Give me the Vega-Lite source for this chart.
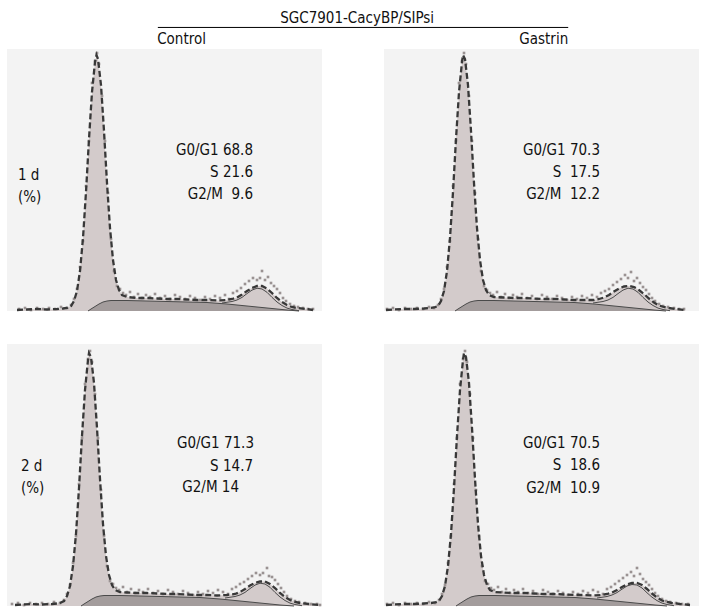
{
"$schema":"https://vega.github.io/schema/vega-lite/v6.json",
"padding":{"left":7,"top":0,"right":0,"bottom":0},
"background":"#ffffff",
"spacing":0,
"bounds":"flush",
"config":{"view":{"stroke":null,"fill":"#f3f3f3"},"text":{"font":"DejaVu Sans Condensed, DejaVu Sans","fontSize":15,"color":"#111111"}},
"vconcat":[
{
"width":692,"height":49,
"view":{"stroke":null,"fill":"#ffffff"},
"data":{"values":[
{"k":"title","x":50.6,"y":36.7,"t":"SGC7901-CacyBP/SIPsi"},
{"k":"rule","x":21.8,"x2":81.1,"y":56},
{"k":"left","x":21.7,"y":79.6,"t":"Control"},
{"k":"right","x":81.1,"y":79.6,"t":"Gastrin"}
]},
"layer":[
{"transform":[{"filter":"datum.k=='rule'"}],"mark":{"type":"rule","color":"#000000","strokeWidth":1},
"encoding":{"x":{"field":"x","type":"quantitative","scale":{"domain":[0,100]},"axis":null},"x2":{"field":"x2"},"y":{"field":"y","type":"quantitative","scale":{"domain":[0,100],"reverse":true},"axis":null}}},
{"transform":[{"filter":"datum.k=='title'"}],"mark":{"type":"text","align":"center","baseline":"middle"},
"encoding":{"x":{"field":"x","type":"quantitative","scale":{"domain":[0,100]},"axis":null},"y":{"field":"y","type":"quantitative","scale":{"domain":[0,100],"reverse":true},"axis":null},"text":{"field":"t"}}},
{"transform":[{"filter":"datum.k=='left'"}],"mark":{"type":"text","align":"left","baseline":"middle"},
"encoding":{"x":{"field":"x","type":"quantitative","scale":{"domain":[0,100]},"axis":null},"y":{"field":"y","type":"quantitative","scale":{"domain":[0,100],"reverse":true},"axis":null},"text":{"field":"t"}}},
{"transform":[{"filter":"datum.k=='right'"}],"mark":{"type":"text","align":"right","baseline":"middle"},
"encoding":{"x":{"field":"x","type":"quantitative","scale":{"domain":[0,100]},"axis":null},"y":{"field":"y","type":"quantitative","scale":{"domain":[0,100],"reverse":true},"axis":null},"text":{"field":"t"}}}
]
},
{
"bounds":"flush",
"data":{"values":[
{"r":1,"c":1,"k":"t","x":10,"y":1},{"r":1,"c":1,"k":"t","x":20,"y":1.5},{"r":1,"c":1,"k":"t","x":30,"y":2},{"r":1,"c":1,"k":"t","x":40,"y":1.5},{"r":1,"c":1,"k":"t","x":50,"y":2},{"r":1,"c":1,"k":"t","x":56,"y":2.5},{"r":1,"c":1,"k":"t","x":60,"y":3},{"r":1,"c":1,"k":"t","x":64,"y":5},{"r":1,"c":1,"k":"t","x":67,"y":10},{"r":1,"c":1,"k":"t","x":70,"y":20},{"r":1,"c":1,"k":"t","x":73,"y":40},{"r":1,"c":1,"k":"t","x":76,"y":73},{"r":1,"c":1,"k":"t","x":79,"y":119},{"r":1,"c":1,"k":"t","x":82,"y":172},{"r":1,"c":1,"k":"t","x":85,"y":219},{"r":1,"c":1,"k":"t","x":88,"y":249},{"r":1,"c":1,"k":"t","x":89.5,"y":256},{"r":1,"c":1,"k":"t","x":91,"y":252},{"r":1,"c":1,"k":"t","x":94,"y":226},{"r":1,"c":1,"k":"t","x":97,"y":180},{"r":1,"c":1,"k":"t","x":100,"y":128},{"r":1,"c":1,"k":"t","x":103,"y":83},{"r":1,"c":1,"k":"t","x":106,"y":51},{"r":1,"c":1,"k":"t","x":109,"y":31},{"r":1,"c":1,"k":"t","x":112,"y":21},{"r":1,"c":1,"k":"t","x":115,"y":16},{"r":1,"c":1,"k":"t","x":120,"y":14},{"r":1,"c":1,"k":"t","x":130,"y":13},{"r":1,"c":1,"k":"t","x":140,"y":13},{"r":1,"c":1,"k":"t","x":150,"y":12.5},{"r":1,"c":1,"k":"t","x":160,"y":12},{"r":1,"c":1,"k":"t","x":170,"y":12},{"r":1,"c":1,"k":"t","x":180,"y":11.5},{"r":1,"c":1,"k":"t","x":190,"y":11},{"r":1,"c":1,"k":"t","x":200,"y":11},{"r":1,"c":1,"k":"t","x":210,"y":10.5},{"r":1,"c":1,"k":"t","x":220,"y":11},{"r":1,"c":1,"k":"t","x":225,"y":12},{"r":1,"c":1,"k":"t","x":230,"y":13.5},{"r":1,"c":1,"k":"t","x":235,"y":16.5},{"r":1,"c":1,"k":"t","x":240,"y":20},{"r":1,"c":1,"k":"t","x":245,"y":23},{"r":1,"c":1,"k":"t","x":250,"y":25},{"r":1,"c":1,"k":"t","x":255,"y":25},{"r":1,"c":1,"k":"t","x":260,"y":22.5},{"r":1,"c":1,"k":"t","x":265,"y":18},{"r":1,"c":1,"k":"t","x":270,"y":13},{"r":1,"c":1,"k":"t","x":275,"y":9},{"r":1,"c":1,"k":"t","x":280,"y":6},{"r":1,"c":1,"k":"t","x":285,"y":4},{"r":1,"c":1,"k":"t","x":290,"y":3},{"r":1,"c":1,"k":"t","x":300,"y":2},{"r":1,"c":1,"k":"t","x":306,"y":1},
{"r":1,"c":1,"k":"s","x":81,"y":0},{"r":1,"c":1,"k":"s","x":84,"y":2},{"r":1,"c":1,"k":"s","x":88,"y":4.5},{"r":1,"c":1,"k":"s","x":92,"y":7},{"r":1,"c":1,"k":"s","x":96,"y":9},{"r":1,"c":1,"k":"s","x":100,"y":10},{"r":1,"c":1,"k":"s","x":104,"y":10.5},{"r":1,"c":1,"k":"s","x":120,"y":10.5},{"r":1,"c":1,"k":"s","x":140,"y":10},{"r":1,"c":1,"k":"s","x":160,"y":9.5},{"r":1,"c":1,"k":"s","x":180,"y":9},{"r":1,"c":1,"k":"s","x":200,"y":8.5},{"r":1,"c":1,"k":"s","x":220,"y":7},{"r":1,"c":1,"k":"s","x":235,"y":5.5},{"r":1,"c":1,"k":"s","x":250,"y":4},{"r":1,"c":1,"k":"s","x":265,"y":2.5},{"r":1,"c":1,"k":"s","x":280,"y":1},{"r":1,"c":1,"k":"s","x":292,"y":0},
{"r":1,"c":1,"k":"g","x":215,"y":8},{"r":1,"c":1,"k":"g","x":225,"y":9.5},{"r":1,"c":1,"k":"g","x":230,"y":11},{"r":1,"c":1,"k":"g","x":235,"y":13.6},{"r":1,"c":1,"k":"g","x":240,"y":17.4},{"r":1,"c":1,"k":"g","x":245,"y":20.9},{"r":1,"c":1,"k":"g","x":250,"y":22.8},{"r":1,"c":1,"k":"g","x":255,"y":22},{"r":1,"c":1,"k":"g","x":260,"y":18.7},{"r":1,"c":1,"k":"g","x":265,"y":13.6},{"r":1,"c":1,"k":"g","x":270,"y":9},{"r":1,"c":1,"k":"g","x":275,"y":5.5},{"r":1,"c":1,"k":"g","x":280,"y":2.9},{"r":1,"c":1,"k":"g","x":285,"y":1.5},{"r":1,"c":1,"k":"g","x":292,"y":0.3},
{"r":1,"c":1,"k":"p","x":12,"y":2},{"r":1,"c":1,"k":"p","x":18,"y":3},{"r":1,"c":1,"k":"p","x":24,"y":1},{"r":1,"c":1,"k":"p","x":30,"y":3},{"r":1,"c":1,"k":"p","x":36,"y":2},{"r":1,"c":1,"k":"p","x":42,"y":3},{"r":1,"c":1,"k":"p","x":48,"y":2},{"r":1,"c":1,"k":"p","x":54,"y":4},{"r":1,"c":1,"k":"p","x":60,"y":3},{"r":1,"c":1,"k":"p","x":64,"y":6},{"r":1,"c":1,"k":"p","x":67,"y":12},{"r":1,"c":1,"k":"p","x":70,"y":22},{"r":1,"c":1,"k":"p","x":73,"y":44},{"r":1,"c":1,"k":"p","x":76,"y":70},{"r":1,"c":1,"k":"p","x":79,"y":125},{"r":1,"c":1,"k":"p","x":82,"y":170},{"r":1,"c":1,"k":"p","x":85,"y":228},{"r":1,"c":1,"k":"p","x":88,"y":250},{"r":1,"c":1,"k":"p","x":90,"y":258},{"r":1,"c":1,"k":"p","x":92,"y":247},{"r":1,"c":1,"k":"p","x":95,"y":215},{"r":1,"c":1,"k":"p","x":98,"y":170},{"r":1,"c":1,"k":"p","x":101,"y":118},{"r":1,"c":1,"k":"p","x":104,"y":72},{"r":1,"c":1,"k":"p","x":107,"y":40},{"r":1,"c":1,"k":"p","x":110,"y":25},{"r":1,"c":1,"k":"p","x":113,"y":22},{"r":1,"c":1,"k":"p","x":116,"y":18},{"r":1,"c":1,"k":"p","x":119,"y":16},{"r":1,"c":1,"k":"p","x":123,"y":19},{"r":1,"c":1,"k":"p","x":127,"y":14},{"r":1,"c":1,"k":"p","x":131,"y":17},{"r":1,"c":1,"k":"p","x":135,"y":13},{"r":1,"c":1,"k":"p","x":139,"y":16},{"r":1,"c":1,"k":"p","x":143,"y":14},{"r":1,"c":1,"k":"p","x":148,"y":17},{"r":1,"c":1,"k":"p","x":153,"y":13},{"r":1,"c":1,"k":"p","x":158,"y":15},{"r":1,"c":1,"k":"p","x":163,"y":12},{"r":1,"c":1,"k":"p","x":168,"y":16},{"r":1,"c":1,"k":"p","x":173,"y":14},{"r":1,"c":1,"k":"p","x":178,"y":12},{"r":1,"c":1,"k":"p","x":183,"y":15},{"r":1,"c":1,"k":"p","x":188,"y":13},{"r":1,"c":1,"k":"p","x":193,"y":11},{"r":1,"c":1,"k":"p","x":198,"y":14},{"r":1,"c":1,"k":"p","x":203,"y":12},{"r":1,"c":1,"k":"p","x":208,"y":15},{"r":1,"c":1,"k":"p","x":213,"y":13},{"r":1,"c":1,"k":"p","x":218,"y":16},{"r":1,"c":1,"k":"p","x":222,"y":12},{"r":1,"c":1,"k":"p","x":226,"y":18},{"r":1,"c":1,"k":"p","x":230,"y":20},{"r":1,"c":1,"k":"p","x":234,"y":23},{"r":1,"c":1,"k":"p","x":238,"y":27},{"r":1,"c":1,"k":"p","x":242,"y":30},{"r":1,"c":1,"k":"p","x":246,"y":33},{"r":1,"c":1,"k":"p","x":250,"y":31},{"r":1,"c":1,"k":"p","x":253,"y":33},{"r":1,"c":1,"k":"p","x":255,"y":40},{"r":1,"c":1,"k":"p","x":258,"y":31},{"r":1,"c":1,"k":"p","x":261,"y":34},{"r":1,"c":1,"k":"p","x":264,"y":28},{"r":1,"c":1,"k":"p","x":267,"y":25},{"r":1,"c":1,"k":"p","x":270,"y":22},{"r":1,"c":1,"k":"p","x":273,"y":18},{"r":1,"c":1,"k":"p","x":276,"y":13},{"r":1,"c":1,"k":"p","x":279,"y":10},{"r":1,"c":1,"k":"p","x":283,"y":7},{"r":1,"c":1,"k":"p","x":287,"y":5},{"r":1,"c":1,"k":"p","x":291,"y":4},{"r":1,"c":1,"k":"p","x":296,"y":3},{"r":1,"c":1,"k":"p","x":301,"y":2},{"r":1,"c":1,"k":"p","x":306,"y":2},
{"r":1,"c":1,"k":"x","x":246,"y":161,"t":"G0/G1 68.8"},{"r":1,"c":1,"k":"x","x":246,"y":139,"t":"S 21.6"},{"r":1,"c":1,"k":"x","x":246,"y":117,"t":"G2/M\u00a0\u00a09.6"},
{"r":1,"c":1,"k":"l","x":11,"y":136,"t":"1 d"},{"r":1,"c":1,"k":"l","x":11,"y":114,"t":"(%)"},

{"r":1,"c":2,"k":"t","x":2,"y":1},{"r":1,"c":2,"k":"t","x":10,"y":1.5},{"r":1,"c":2,"k":"t","x":20,"y":2},{"r":1,"c":2,"k":"t","x":30,"y":2},{"r":1,"c":2,"k":"t","x":40,"y":2.5},{"r":1,"c":2,"k":"t","x":46,"y":3},{"r":1,"c":2,"k":"t","x":50,"y":3.5},{"r":1,"c":2,"k":"t","x":54,"y":5},{"r":1,"c":2,"k":"t","x":57,"y":10},{"r":1,"c":2,"k":"t","x":60,"y":20},{"r":1,"c":2,"k":"t","x":63,"y":40},{"r":1,"c":2,"k":"t","x":66,"y":73},{"r":1,"c":2,"k":"t","x":69,"y":119},{"r":1,"c":2,"k":"t","x":72,"y":172},{"r":1,"c":2,"k":"t","x":75,"y":219},{"r":1,"c":2,"k":"t","x":78,"y":249},{"r":1,"c":2,"k":"t","x":79,"y":256},{"r":1,"c":2,"k":"t","x":81,"y":252},{"r":1,"c":2,"k":"t","x":84,"y":226},{"r":1,"c":2,"k":"t","x":87,"y":180},{"r":1,"c":2,"k":"t","x":90,"y":128},{"r":1,"c":2,"k":"t","x":93,"y":83},{"r":1,"c":2,"k":"t","x":96,"y":51},{"r":1,"c":2,"k":"t","x":99,"y":31},{"r":1,"c":2,"k":"t","x":102,"y":21},{"r":1,"c":2,"k":"t","x":105,"y":16},{"r":1,"c":2,"k":"t","x":110,"y":14},{"r":1,"c":2,"k":"t","x":120,"y":13.5},{"r":1,"c":2,"k":"t","x":130,"y":13},{"r":1,"c":2,"k":"t","x":140,"y":13},{"r":1,"c":2,"k":"t","x":150,"y":12.5},{"r":1,"c":2,"k":"t","x":160,"y":12},{"r":1,"c":2,"k":"t","x":170,"y":12},{"r":1,"c":2,"k":"t","x":180,"y":11.5},{"r":1,"c":2,"k":"t","x":190,"y":11},{"r":1,"c":2,"k":"t","x":200,"y":11},{"r":1,"c":2,"k":"t","x":210,"y":11},{"r":1,"c":2,"k":"t","x":215,"y":12},{"r":1,"c":2,"k":"t","x":220,"y":13.5},{"r":1,"c":2,"k":"t","x":225,"y":16},{"r":1,"c":2,"k":"t","x":230,"y":19.5},{"r":1,"c":2,"k":"t","x":235,"y":22.5},{"r":1,"c":2,"k":"t","x":240,"y":24.5},{"r":1,"c":2,"k":"t","x":245,"y":25},{"r":1,"c":2,"k":"t","x":250,"y":24},{"r":1,"c":2,"k":"t","x":255,"y":21},{"r":1,"c":2,"k":"t","x":260,"y":17},{"r":1,"c":2,"k":"t","x":265,"y":12.5},{"r":1,"c":2,"k":"t","x":270,"y":8.5},{"r":1,"c":2,"k":"t","x":275,"y":5.5},{"r":1,"c":2,"k":"t","x":280,"y":4},{"r":1,"c":2,"k":"t","x":285,"y":3},{"r":1,"c":2,"k":"t","x":292,"y":2},{"r":1,"c":2,"k":"t","x":301,"y":1},
{"r":1,"c":2,"k":"s","x":71,"y":0},{"r":1,"c":2,"k":"s","x":74,"y":2},{"r":1,"c":2,"k":"s","x":78,"y":4.5},{"r":1,"c":2,"k":"s","x":82,"y":7},{"r":1,"c":2,"k":"s","x":86,"y":9},{"r":1,"c":2,"k":"s","x":90,"y":10},{"r":1,"c":2,"k":"s","x":94,"y":10.5},{"r":1,"c":2,"k":"s","x":110,"y":10.5},{"r":1,"c":2,"k":"s","x":130,"y":10},{"r":1,"c":2,"k":"s","x":150,"y":9.5},{"r":1,"c":2,"k":"s","x":170,"y":9},{"r":1,"c":2,"k":"s","x":190,"y":8.5},{"r":1,"c":2,"k":"s","x":210,"y":7},{"r":1,"c":2,"k":"s","x":225,"y":5.5},{"r":1,"c":2,"k":"s","x":240,"y":4},{"r":1,"c":2,"k":"s","x":255,"y":2.5},{"r":1,"c":2,"k":"s","x":270,"y":1},{"r":1,"c":2,"k":"s","x":282,"y":0},
{"r":1,"c":2,"k":"g","x":209,"y":8},{"r":1,"c":2,"k":"g","x":219,"y":9.5},{"r":1,"c":2,"k":"g","x":224,"y":11},{"r":1,"c":2,"k":"g","x":229,"y":13.6},{"r":1,"c":2,"k":"g","x":234,"y":17.4},{"r":1,"c":2,"k":"g","x":239,"y":20.9},{"r":1,"c":2,"k":"g","x":244,"y":22.8},{"r":1,"c":2,"k":"g","x":249,"y":22},{"r":1,"c":2,"k":"g","x":254,"y":18.7},{"r":1,"c":2,"k":"g","x":259,"y":13.6},{"r":1,"c":2,"k":"g","x":264,"y":9},{"r":1,"c":2,"k":"g","x":269,"y":5.5},{"r":1,"c":2,"k":"g","x":274,"y":2.9},{"r":1,"c":2,"k":"g","x":279,"y":1.5},{"r":1,"c":2,"k":"g","x":286,"y":0.3},
{"r":1,"c":2,"k":"p","x":3,"y":2},{"r":1,"c":2,"k":"p","x":9,"y":3},{"r":1,"c":2,"k":"p","x":15,"y":1},{"r":1,"c":2,"k":"p","x":21,"y":3},{"r":1,"c":2,"k":"p","x":27,"y":2},{"r":1,"c":2,"k":"p","x":33,"y":3},{"r":1,"c":2,"k":"p","x":39,"y":2},{"r":1,"c":2,"k":"p","x":45,"y":4},{"r":1,"c":2,"k":"p","x":50,"y":3},{"r":1,"c":2,"k":"p","x":54,"y":6},{"r":1,"c":2,"k":"p","x":57,"y":12},{"r":1,"c":2,"k":"p","x":60,"y":22},{"r":1,"c":2,"k":"p","x":63,"y":44},{"r":1,"c":2,"k":"p","x":66,"y":70},{"r":1,"c":2,"k":"p","x":69,"y":125},{"r":1,"c":2,"k":"p","x":72,"y":170},{"r":1,"c":2,"k":"p","x":75,"y":228},{"r":1,"c":2,"k":"p","x":78,"y":250},{"r":1,"c":2,"k":"p","x":80,"y":258},{"r":1,"c":2,"k":"p","x":82,"y":247},{"r":1,"c":2,"k":"p","x":85,"y":215},{"r":1,"c":2,"k":"p","x":88,"y":170},{"r":1,"c":2,"k":"p","x":91,"y":118},{"r":1,"c":2,"k":"p","x":94,"y":72},{"r":1,"c":2,"k":"p","x":97,"y":40},{"r":1,"c":2,"k":"p","x":100,"y":25},{"r":1,"c":2,"k":"p","x":103,"y":21},{"r":1,"c":2,"k":"p","x":106,"y":18},{"r":1,"c":2,"k":"p","x":109,"y":16},{"r":1,"c":2,"k":"p","x":113,"y":19},{"r":1,"c":2,"k":"p","x":117,"y":14},{"r":1,"c":2,"k":"p","x":121,"y":17},{"r":1,"c":2,"k":"p","x":125,"y":13},{"r":1,"c":2,"k":"p","x":129,"y":16},{"r":1,"c":2,"k":"p","x":133,"y":14},{"r":1,"c":2,"k":"p","x":138,"y":17},{"r":1,"c":2,"k":"p","x":143,"y":13},{"r":1,"c":2,"k":"p","x":148,"y":15},{"r":1,"c":2,"k":"p","x":153,"y":12},{"r":1,"c":2,"k":"p","x":158,"y":16},{"r":1,"c":2,"k":"p","x":163,"y":14},{"r":1,"c":2,"k":"p","x":168,"y":12},{"r":1,"c":2,"k":"p","x":173,"y":15},{"r":1,"c":2,"k":"p","x":178,"y":13},{"r":1,"c":2,"k":"p","x":183,"y":11},{"r":1,"c":2,"k":"p","x":188,"y":14},{"r":1,"c":2,"k":"p","x":193,"y":12},{"r":1,"c":2,"k":"p","x":198,"y":15},{"r":1,"c":2,"k":"p","x":203,"y":13},{"r":1,"c":2,"k":"p","x":208,"y":16},{"r":1,"c":2,"k":"p","x":213,"y":14},{"r":1,"c":2,"k":"p","x":217,"y":18},{"r":1,"c":2,"k":"p","x":221,"y":20},{"r":1,"c":2,"k":"p","x":225,"y":22},{"r":1,"c":2,"k":"p","x":229,"y":26},{"r":1,"c":2,"k":"p","x":233,"y":29},{"r":1,"c":2,"k":"p","x":237,"y":32},{"r":1,"c":2,"k":"p","x":241,"y":36},{"r":1,"c":2,"k":"p","x":244,"y":33},{"r":1,"c":2,"k":"p","x":247,"y":39},{"r":1,"c":2,"k":"p","x":250,"y":30},{"r":1,"c":2,"k":"p","x":253,"y":33},{"r":1,"c":2,"k":"p","x":256,"y":28},{"r":1,"c":2,"k":"p","x":259,"y":24},{"r":1,"c":2,"k":"p","x":262,"y":21},{"r":1,"c":2,"k":"p","x":265,"y":17},{"r":1,"c":2,"k":"p","x":268,"y":13},{"r":1,"c":2,"k":"p","x":271,"y":10},{"r":1,"c":2,"k":"p","x":275,"y":7},{"r":1,"c":2,"k":"p","x":279,"y":5},{"r":1,"c":2,"k":"p","x":284,"y":4},{"r":1,"c":2,"k":"p","x":290,"y":3},{"r":1,"c":2,"k":"p","x":295,"y":2},{"r":1,"c":2,"k":"p","x":300,"y":2},
{"r":1,"c":2,"k":"x","x":216,"y":161,"t":"G0/G1 70.3"},{"r":1,"c":2,"k":"x","x":216,"y":139,"t":"S\u00a0\u00a017.5"},{"r":1,"c":2,"k":"x","x":216,"y":117,"t":"G2/M\u00a0\u00a012.2"},

{"r":2,"c":1,"k":"t","x":8,"y":1},{"r":2,"c":1,"k":"t","x":15,"y":1.5},{"r":2,"c":1,"k":"t","x":25,"y":2},{"r":2,"c":1,"k":"t","x":35,"y":1.5},{"r":2,"c":1,"k":"t","x":45,"y":2},{"r":2,"c":1,"k":"t","x":50,"y":2.5},{"r":2,"c":1,"k":"t","x":53,"y":3},{"r":2,"c":1,"k":"t","x":57,"y":5},{"r":2,"c":1,"k":"t","x":60,"y":10},{"r":2,"c":1,"k":"t","x":63,"y":20},{"r":2,"c":1,"k":"t","x":66,"y":40},{"r":2,"c":1,"k":"t","x":69,"y":72},{"r":2,"c":1,"k":"t","x":72,"y":118},{"r":2,"c":1,"k":"t","x":75,"y":170},{"r":2,"c":1,"k":"t","x":78,"y":216},{"r":2,"c":1,"k":"t","x":81,"y":246},{"r":2,"c":1,"k":"t","x":82,"y":253},{"r":2,"c":1,"k":"t","x":84,"y":249},{"r":2,"c":1,"k":"t","x":87,"y":223},{"r":2,"c":1,"k":"t","x":90,"y":178},{"r":2,"c":1,"k":"t","x":93,"y":127},{"r":2,"c":1,"k":"t","x":96,"y":82},{"r":2,"c":1,"k":"t","x":99,"y":50},{"r":2,"c":1,"k":"t","x":102,"y":31},{"r":2,"c":1,"k":"t","x":105,"y":21},{"r":2,"c":1,"k":"t","x":108,"y":16},{"r":2,"c":1,"k":"t","x":113,"y":14},{"r":2,"c":1,"k":"t","x":120,"y":13.5},{"r":2,"c":1,"k":"t","x":130,"y":13},{"r":2,"c":1,"k":"t","x":140,"y":13},{"r":2,"c":1,"k":"t","x":150,"y":12.5},{"r":2,"c":1,"k":"t","x":160,"y":12},{"r":2,"c":1,"k":"t","x":170,"y":12},{"r":2,"c":1,"k":"t","x":180,"y":11.5},{"r":2,"c":1,"k":"t","x":190,"y":11},{"r":2,"c":1,"k":"t","x":200,"y":11},{"r":2,"c":1,"k":"t","x":210,"y":10.5},{"r":2,"c":1,"k":"t","x":220,"y":11},{"r":2,"c":1,"k":"t","x":228,"y":12},{"r":2,"c":1,"k":"t","x":233,"y":14},{"r":2,"c":1,"k":"t","x":238,"y":17},{"r":2,"c":1,"k":"t","x":243,"y":20.5},{"r":2,"c":1,"k":"t","x":248,"y":23},{"r":2,"c":1,"k":"t","x":253,"y":24.5},{"r":2,"c":1,"k":"t","x":258,"y":24.5},{"r":2,"c":1,"k":"t","x":263,"y":22},{"r":2,"c":1,"k":"t","x":268,"y":18},{"r":2,"c":1,"k":"t","x":273,"y":13},{"r":2,"c":1,"k":"t","x":278,"y":9},{"r":2,"c":1,"k":"t","x":283,"y":6},{"r":2,"c":1,"k":"t","x":288,"y":4},{"r":2,"c":1,"k":"t","x":293,"y":3},{"r":2,"c":1,"k":"t","x":302,"y":2},{"r":2,"c":1,"k":"t","x":312,"y":1},
{"r":2,"c":1,"k":"s","x":74,"y":0},{"r":2,"c":1,"k":"s","x":77,"y":2},{"r":2,"c":1,"k":"s","x":81,"y":4.5},{"r":2,"c":1,"k":"s","x":85,"y":7},{"r":2,"c":1,"k":"s","x":89,"y":9},{"r":2,"c":1,"k":"s","x":93,"y":10},{"r":2,"c":1,"k":"s","x":97,"y":10.5},{"r":2,"c":1,"k":"s","x":113,"y":10.5},{"r":2,"c":1,"k":"s","x":133,"y":10},{"r":2,"c":1,"k":"s","x":153,"y":9.5},{"r":2,"c":1,"k":"s","x":173,"y":9},{"r":2,"c":1,"k":"s","x":193,"y":8.5},{"r":2,"c":1,"k":"s","x":213,"y":7},{"r":2,"c":1,"k":"s","x":228,"y":5.5},{"r":2,"c":1,"k":"s","x":243,"y":4},{"r":2,"c":1,"k":"s","x":258,"y":2.5},{"r":2,"c":1,"k":"s","x":273,"y":1},{"r":2,"c":1,"k":"s","x":287,"y":0},
{"r":2,"c":1,"k":"g","x":218,"y":8},{"r":2,"c":1,"k":"g","x":228,"y":9.5},{"r":2,"c":1,"k":"g","x":233,"y":11},{"r":2,"c":1,"k":"g","x":238,"y":13.6},{"r":2,"c":1,"k":"g","x":243,"y":17.4},{"r":2,"c":1,"k":"g","x":248,"y":20.9},{"r":2,"c":1,"k":"g","x":253,"y":22.8},{"r":2,"c":1,"k":"g","x":258,"y":22},{"r":2,"c":1,"k":"g","x":263,"y":18.7},{"r":2,"c":1,"k":"g","x":268,"y":13.6},{"r":2,"c":1,"k":"g","x":273,"y":9},{"r":2,"c":1,"k":"g","x":278,"y":5.5},{"r":2,"c":1,"k":"g","x":283,"y":2.9},{"r":2,"c":1,"k":"g","x":288,"y":1.5},{"r":2,"c":1,"k":"g","x":295,"y":0.3},
{"r":2,"c":1,"k":"p","x":5,"y":2},{"r":2,"c":1,"k":"p","x":11,"y":3},{"r":2,"c":1,"k":"p","x":17,"y":1},{"r":2,"c":1,"k":"p","x":23,"y":3},{"r":2,"c":1,"k":"p","x":29,"y":2},{"r":2,"c":1,"k":"p","x":35,"y":3},{"r":2,"c":1,"k":"p","x":41,"y":2},{"r":2,"c":1,"k":"p","x":47,"y":4},{"r":2,"c":1,"k":"p","x":53,"y":3},{"r":2,"c":1,"k":"p","x":57,"y":6},{"r":2,"c":1,"k":"p","x":60,"y":12},{"r":2,"c":1,"k":"p","x":63,"y":21},{"r":2,"c":1,"k":"p","x":66,"y":43},{"r":2,"c":1,"k":"p","x":69,"y":70},{"r":2,"c":1,"k":"p","x":72,"y":122},{"r":2,"c":1,"k":"p","x":75,"y":168},{"r":2,"c":1,"k":"p","x":78,"y":222},{"r":2,"c":1,"k":"p","x":81,"y":247},{"r":2,"c":1,"k":"p","x":83,"y":255},{"r":2,"c":1,"k":"p","x":85,"y":244},{"r":2,"c":1,"k":"p","x":88,"y":212},{"r":2,"c":1,"k":"p","x":91,"y":168},{"r":2,"c":1,"k":"p","x":94,"y":116},{"r":2,"c":1,"k":"p","x":97,"y":70},{"r":2,"c":1,"k":"p","x":100,"y":40},{"r":2,"c":1,"k":"p","x":103,"y":25},{"r":2,"c":1,"k":"p","x":106,"y":22},{"r":2,"c":1,"k":"p","x":109,"y":18},{"r":2,"c":1,"k":"p","x":112,"y":16},{"r":2,"c":1,"k":"p","x":116,"y":19},{"r":2,"c":1,"k":"p","x":120,"y":14},{"r":2,"c":1,"k":"p","x":124,"y":17},{"r":2,"c":1,"k":"p","x":128,"y":13},{"r":2,"c":1,"k":"p","x":132,"y":16},{"r":2,"c":1,"k":"p","x":136,"y":14},{"r":2,"c":1,"k":"p","x":141,"y":17},{"r":2,"c":1,"k":"p","x":146,"y":13},{"r":2,"c":1,"k":"p","x":151,"y":15},{"r":2,"c":1,"k":"p","x":156,"y":12},{"r":2,"c":1,"k":"p","x":161,"y":16},{"r":2,"c":1,"k":"p","x":166,"y":14},{"r":2,"c":1,"k":"p","x":171,"y":12},{"r":2,"c":1,"k":"p","x":176,"y":15},{"r":2,"c":1,"k":"p","x":181,"y":13},{"r":2,"c":1,"k":"p","x":186,"y":11},{"r":2,"c":1,"k":"p","x":191,"y":14},{"r":2,"c":1,"k":"p","x":196,"y":12},{"r":2,"c":1,"k":"p","x":201,"y":15},{"r":2,"c":1,"k":"p","x":206,"y":13},{"r":2,"c":1,"k":"p","x":211,"y":16},{"r":2,"c":1,"k":"p","x":216,"y":14},{"r":2,"c":1,"k":"p","x":221,"y":12},{"r":2,"c":1,"k":"p","x":225,"y":17},{"r":2,"c":1,"k":"p","x":229,"y":19},{"r":2,"c":1,"k":"p","x":233,"y":22},{"r":2,"c":1,"k":"p","x":237,"y":24},{"r":2,"c":1,"k":"p","x":241,"y":27},{"r":2,"c":1,"k":"p","x":245,"y":30},{"r":2,"c":1,"k":"p","x":249,"y":33},{"r":2,"c":1,"k":"p","x":253,"y":31},{"r":2,"c":1,"k":"p","x":256,"y":33},{"r":2,"c":1,"k":"p","x":260,"y":38},{"r":2,"c":1,"k":"p","x":262,"y":30},{"r":2,"c":1,"k":"p","x":265,"y":29},{"r":2,"c":1,"k":"p","x":268,"y":26},{"r":2,"c":1,"k":"p","x":271,"y":22},{"r":2,"c":1,"k":"p","x":274,"y":18},{"r":2,"c":1,"k":"p","x":277,"y":14},{"r":2,"c":1,"k":"p","x":280,"y":10},{"r":2,"c":1,"k":"p","x":284,"y":7},{"r":2,"c":1,"k":"p","x":288,"y":5},{"r":2,"c":1,"k":"p","x":292,"y":4},{"r":2,"c":1,"k":"p","x":298,"y":3},{"r":2,"c":1,"k":"p","x":304,"y":2},{"r":2,"c":1,"k":"p","x":310,"y":2},{"r":2,"c":1,"k":"p","x":313,"y":1},
{"r":2,"c":1,"k":"x","x":247,"y":163,"t":"G0/G1 71.3"},{"r":2,"c":1,"k":"x","x":246,"y":140,"t":"S 14.7"},{"r":2,"c":1,"k":"x","x":232,"y":119,"t":"G2/M 14"},
{"r":2,"c":1,"k":"l","x":14,"y":140,"t":"2 d"},{"r":2,"c":1,"k":"l","x":14,"y":118,"t":"(%)"},

{"r":2,"c":2,"k":"t","x":2,"y":1},{"r":2,"c":2,"k":"t","x":10,"y":1.5},{"r":2,"c":2,"k":"t","x":20,"y":2},{"r":2,"c":2,"k":"t","x":30,"y":2},{"r":2,"c":2,"k":"t","x":40,"y":2.5},{"r":2,"c":2,"k":"t","x":47,"y":3},{"r":2,"c":2,"k":"t","x":51,"y":3.5},{"r":2,"c":2,"k":"t","x":55,"y":5},{"r":2,"c":2,"k":"t","x":58,"y":10},{"r":2,"c":2,"k":"t","x":61,"y":20},{"r":2,"c":2,"k":"t","x":64,"y":40},{"r":2,"c":2,"k":"t","x":67,"y":72},{"r":2,"c":2,"k":"t","x":70,"y":118},{"r":2,"c":2,"k":"t","x":73,"y":170},{"r":2,"c":2,"k":"t","x":76,"y":216},{"r":2,"c":2,"k":"t","x":79,"y":246},{"r":2,"c":2,"k":"t","x":80,"y":253},{"r":2,"c":2,"k":"t","x":82,"y":249},{"r":2,"c":2,"k":"t","x":85,"y":223},{"r":2,"c":2,"k":"t","x":88,"y":178},{"r":2,"c":2,"k":"t","x":91,"y":127},{"r":2,"c":2,"k":"t","x":94,"y":82},{"r":2,"c":2,"k":"t","x":97,"y":50},{"r":2,"c":2,"k":"t","x":100,"y":31},{"r":2,"c":2,"k":"t","x":103,"y":21},{"r":2,"c":2,"k":"t","x":106,"y":16},{"r":2,"c":2,"k":"t","x":111,"y":14},{"r":2,"c":2,"k":"t","x":120,"y":13.5},{"r":2,"c":2,"k":"t","x":130,"y":13},{"r":2,"c":2,"k":"t","x":140,"y":13},{"r":2,"c":2,"k":"t","x":150,"y":12.5},{"r":2,"c":2,"k":"t","x":160,"y":12},{"r":2,"c":2,"k":"t","x":170,"y":12},{"r":2,"c":2,"k":"t","x":180,"y":11.5},{"r":2,"c":2,"k":"t","x":190,"y":11},{"r":2,"c":2,"k":"t","x":200,"y":11},{"r":2,"c":2,"k":"t","x":210,"y":10.5},{"r":2,"c":2,"k":"t","x":218,"y":11},{"r":2,"c":2,"k":"t","x":223,"y":12},{"r":2,"c":2,"k":"t","x":228,"y":13.5},{"r":2,"c":2,"k":"t","x":233,"y":16},{"r":2,"c":2,"k":"t","x":238,"y":19},{"r":2,"c":2,"k":"t","x":243,"y":21.5},{"r":2,"c":2,"k":"t","x":248,"y":23},{"r":2,"c":2,"k":"t","x":253,"y":23},{"r":2,"c":2,"k":"t","x":258,"y":21},{"r":2,"c":2,"k":"t","x":263,"y":17},{"r":2,"c":2,"k":"t","x":268,"y":12.5},{"r":2,"c":2,"k":"t","x":273,"y":8.5},{"r":2,"c":2,"k":"t","x":278,"y":5.5},{"r":2,"c":2,"k":"t","x":283,"y":4},{"r":2,"c":2,"k":"t","x":288,"y":3},{"r":2,"c":2,"k":"t","x":296,"y":2},{"r":2,"c":2,"k":"t","x":306,"y":1},
{"r":2,"c":2,"k":"s","x":72,"y":0},{"r":2,"c":2,"k":"s","x":75,"y":2},{"r":2,"c":2,"k":"s","x":79,"y":4.5},{"r":2,"c":2,"k":"s","x":83,"y":7},{"r":2,"c":2,"k":"s","x":87,"y":9},{"r":2,"c":2,"k":"s","x":91,"y":10},{"r":2,"c":2,"k":"s","x":95,"y":10.5},{"r":2,"c":2,"k":"s","x":111,"y":10.5},{"r":2,"c":2,"k":"s","x":131,"y":10},{"r":2,"c":2,"k":"s","x":151,"y":9.5},{"r":2,"c":2,"k":"s","x":171,"y":9},{"r":2,"c":2,"k":"s","x":191,"y":8.5},{"r":2,"c":2,"k":"s","x":211,"y":7},{"r":2,"c":2,"k":"s","x":226,"y":5.5},{"r":2,"c":2,"k":"s","x":241,"y":4},{"r":2,"c":2,"k":"s","x":256,"y":2.5},{"r":2,"c":2,"k":"s","x":271,"y":1},{"r":2,"c":2,"k":"s","x":283,"y":0},
{"r":2,"c":2,"k":"g","x":213,"y":8},{"r":2,"c":2,"k":"g","x":223,"y":9.5},{"r":2,"c":2,"k":"g","x":228,"y":11},{"r":2,"c":2,"k":"g","x":233,"y":13.4},{"r":2,"c":2,"k":"g","x":238,"y":16.8},{"r":2,"c":2,"k":"g","x":243,"y":20},{"r":2,"c":2,"k":"g","x":248,"y":21.5},{"r":2,"c":2,"k":"g","x":253,"y":21},{"r":2,"c":2,"k":"g","x":258,"y":18},{"r":2,"c":2,"k":"g","x":263,"y":13.2},{"r":2,"c":2,"k":"g","x":268,"y":8.8},{"r":2,"c":2,"k":"g","x":273,"y":5.4},{"r":2,"c":2,"k":"g","x":278,"y":2.9},{"r":2,"c":2,"k":"g","x":283,"y":1.5},{"r":2,"c":2,"k":"g","x":290,"y":0.3},
{"r":2,"c":2,"k":"p","x":3,"y":2},{"r":2,"c":2,"k":"p","x":9,"y":3},{"r":2,"c":2,"k":"p","x":15,"y":1},{"r":2,"c":2,"k":"p","x":21,"y":3},{"r":2,"c":2,"k":"p","x":27,"y":2},{"r":2,"c":2,"k":"p","x":33,"y":3},{"r":2,"c":2,"k":"p","x":39,"y":2},{"r":2,"c":2,"k":"p","x":45,"y":4},{"r":2,"c":2,"k":"p","x":51,"y":3},{"r":2,"c":2,"k":"p","x":55,"y":6},{"r":2,"c":2,"k":"p","x":58,"y":12},{"r":2,"c":2,"k":"p","x":61,"y":21},{"r":2,"c":2,"k":"p","x":64,"y":43},{"r":2,"c":2,"k":"p","x":67,"y":70},{"r":2,"c":2,"k":"p","x":70,"y":122},{"r":2,"c":2,"k":"p","x":73,"y":168},{"r":2,"c":2,"k":"p","x":76,"y":222},{"r":2,"c":2,"k":"p","x":79,"y":247},{"r":2,"c":2,"k":"p","x":81,"y":255},{"r":2,"c":2,"k":"p","x":83,"y":244},{"r":2,"c":2,"k":"p","x":86,"y":212},{"r":2,"c":2,"k":"p","x":89,"y":168},{"r":2,"c":2,"k":"p","x":92,"y":116},{"r":2,"c":2,"k":"p","x":95,"y":70},{"r":2,"c":2,"k":"p","x":98,"y":40},{"r":2,"c":2,"k":"p","x":101,"y":25},{"r":2,"c":2,"k":"p","x":104,"y":22},{"r":2,"c":2,"k":"p","x":107,"y":18},{"r":2,"c":2,"k":"p","x":110,"y":16},{"r":2,"c":2,"k":"p","x":114,"y":19},{"r":2,"c":2,"k":"p","x":118,"y":14},{"r":2,"c":2,"k":"p","x":122,"y":17},{"r":2,"c":2,"k":"p","x":126,"y":13},{"r":2,"c":2,"k":"p","x":130,"y":16},{"r":2,"c":2,"k":"p","x":134,"y":14},{"r":2,"c":2,"k":"p","x":139,"y":17},{"r":2,"c":2,"k":"p","x":144,"y":13},{"r":2,"c":2,"k":"p","x":149,"y":15},{"r":2,"c":2,"k":"p","x":154,"y":12},{"r":2,"c":2,"k":"p","x":159,"y":16},{"r":2,"c":2,"k":"p","x":164,"y":14},{"r":2,"c":2,"k":"p","x":169,"y":12},{"r":2,"c":2,"k":"p","x":174,"y":15},{"r":2,"c":2,"k":"p","x":179,"y":13},{"r":2,"c":2,"k":"p","x":184,"y":11},{"r":2,"c":2,"k":"p","x":189,"y":14},{"r":2,"c":2,"k":"p","x":194,"y":12},{"r":2,"c":2,"k":"p","x":199,"y":15},{"r":2,"c":2,"k":"p","x":204,"y":13},{"r":2,"c":2,"k":"p","x":209,"y":16},{"r":2,"c":2,"k":"p","x":214,"y":14},{"r":2,"c":2,"k":"p","x":219,"y":12},{"r":2,"c":2,"k":"p","x":223,"y":17},{"r":2,"c":2,"k":"p","x":227,"y":19},{"r":2,"c":2,"k":"p","x":231,"y":22},{"r":2,"c":2,"k":"p","x":235,"y":25},{"r":2,"c":2,"k":"p","x":239,"y":28},{"r":2,"c":2,"k":"p","x":243,"y":31},{"r":2,"c":2,"k":"p","x":247,"y":34},{"r":2,"c":2,"k":"p","x":250,"y":30},{"r":2,"c":2,"k":"p","x":253,"y":38},{"r":2,"c":2,"k":"p","x":256,"y":32},{"r":2,"c":2,"k":"p","x":259,"y":27},{"r":2,"c":2,"k":"p","x":262,"y":24},{"r":2,"c":2,"k":"p","x":265,"y":21},{"r":2,"c":2,"k":"p","x":268,"y":17},{"r":2,"c":2,"k":"p","x":271,"y":13},{"r":2,"c":2,"k":"p","x":274,"y":10},{"r":2,"c":2,"k":"p","x":278,"y":7},{"r":2,"c":2,"k":"p","x":282,"y":5},{"r":2,"c":2,"k":"p","x":286,"y":4},{"r":2,"c":2,"k":"p","x":292,"y":3},{"r":2,"c":2,"k":"p","x":298,"y":2},{"r":2,"c":2,"k":"p","x":304,"y":2},
{"r":2,"c":2,"k":"x","x":216,"y":163,"t":"G0/G1 70.5"},{"r":2,"c":2,"k":"x","x":216,"y":141,"t":"S\u00a0\u00a018.6"},{"r":2,"c":2,"k":"x","x":216,"y":118,"t":"G2/M\u00a0\u00a010.9"}
]},
"facet":{
"row":{"field":"r","type":"ordinal","title":null,"header":{"labels":false,"title":null}},
"column":{"field":"c","type":"ordinal","title":null,"header":{"labels":false,"title":null}}
},
"spacing":{"row":33,"column":62},
"spec":{
"width":315,"height":262,
"encoding":{
"x":{"field":"x","type":"quantitative","scale":{"domain":[0,315]},"axis":null},
"y":{"field":"y","type":"quantitative","scale":{"domain":[0,262]},"axis":null}
},
"layer":[
{"transform":[{"filter":"datum.k=='t'"}],"mark":{"type":"area","color":"#d3cbcb"}},
{"transform":[{"filter":"datum.k=='s'"}],"mark":{"type":"area","color":"#a39c9c"}},
{"transform":[{"filter":"datum.k=='s'"}],"mark":{"type":"line","color":"#4a4a4a","strokeWidth":1}},
{"transform":[{"filter":"datum.k=='g'"}],"mark":{"type":"line","color":"#4a4a4a","strokeWidth":1}},
{"transform":[{"filter":"datum.k=='p'"}],"mark":{"type":"point","shape":"square","size":7,"filled":true,"color":"#9a9292","opacity":1}},
{"transform":[{"filter":"datum.k=='t'"}],"mark":{"type":"line","color":"#383838","strokeWidth":2.3,"strokeDash":[6,3]}},
{"transform":[{"filter":"datum.k=='x'"}],"mark":{"type":"text","align":"right","baseline":"middle"},"encoding":{"text":{"field":"t"}}},
{"transform":[{"filter":"datum.k=='l'"}],"mark":{"type":"text","align":"left","baseline":"middle"},"encoding":{"text":{"field":"t"}}}
]
}
}
]
}
